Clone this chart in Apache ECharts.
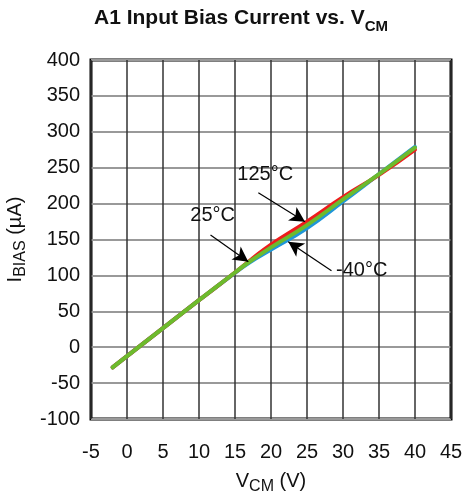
<!DOCTYPE html>
<html><head><meta charset="utf-8">
<script src="https://cdn.jsdelivr.net/npm/echarts@6/dist/echarts.min.js"></script>
<style>html,body{margin:0;padding:0;background:#fff}#c{width:464px;height:495px}</style>
</head><body><div id="c"></div>
<script>
// V_CM (V)
const vcm = [-2, 0, 5, 10, 15, 17, 20, 25, 30, 35, 40];
// I_BIAS (uA) per temperature
const ib125 = [-28, -12.5, 26.5, 65.5, 104, 120, 143, 175, 209, 240, 275];
const ib25  = [-28, -12.5, 26.5, 65.5, 104, 119, 139, 170, 206, 241, 278];
const ibm40 = [-28, -12.5, 26.5, 65.5, 103.5, 118, 136, 166, 203, 241, 279];

// annotations (data coordinates): label, text anchor, arrow start, arrow tip
const annLabels = ['125°C', '25°C', '-40°C'];
const annText = [[19.2, 240], [11.9, 183], [32.6, 107.5]];
const annFrom = [[18.24, 215.2], [11.6, 156.3], [28.4, 106.5]];
const annTo   = [[24.72, 174.8], [16.85, 119.1], [22.4, 147]];

const FONT = '"Liberation Sans", Arial, Helvetica, sans-serif';
const zip = (xs, ys) => xs.map((x, i) => [x, ys[i]]);

const chart = echarts.init(document.getElementById('c'), null, {renderer: 'canvas'});
chart.setOption({
  animation: false,
  backgroundColor: '#fff',
  title: {
    text: '{t|A1 Input Bias Current vs. V}{s|CM}',
    left: 236, top: 3, textAlign: 'center',
    textStyle: {
      rich: {
        t: {fontFamily: FONT, fontWeight: 'bold', fontSize: 21, color: '#111', verticalAlign: 'bottom'},
        s: {fontFamily: FONT, fontWeight: 'bold', fontSize: 15, color: '#111', verticalAlign: 'bottom', padding: [0, 0, -5, 0]}
      }
    }
  },
  grid: {left: 91, right: 13, top: 60, bottom: 76, show: true, borderColor: '#000', borderWidth: 3,
         backgroundColor: 'transparent', containLabel: false, outerBoundsMode: 'none'},
  xAxis: {
    type: 'value', min: -5, max: 45, interval: 5,
    axisLine: {show: false}, axisTick: {show: false},
    splitLine: {show: true, lineStyle: {color: '#333', width: 1.5}},
    axisLabel: {fontFamily: FONT, fontSize: 20, color: '#111', margin: 23},
    name: '{a|V}{b|CM}{a| (V)}', nameLocation: 'middle', nameGap: 52,
    nameTextStyle: {rich: {
      a: {fontFamily: FONT, fontSize: 20, color: '#111', verticalAlign: 'bottom'},
      b: {fontFamily: FONT, fontSize: 16, color: '#111', verticalAlign: 'bottom', padding: [0, 0, -4, 0]}
    }}
  },
  yAxis: {
    type: 'value', min: -100, max: 400, interval: 50,
    axisLine: {show: false}, axisTick: {show: false},
    splitLine: {show: true, lineStyle: {color: '#999', width: 2}},
    axisLabel: {fontFamily: FONT, fontSize: 20, color: '#111', margin: 11},
    name: '{a|I}{b|BIAS}{a| (µA)}', nameLocation: 'middle', nameGap: 56, nameRotate: 90,
    nameTextStyle: {rich: {
      a: {fontFamily: FONT, fontSize: 20, color: '#111', verticalAlign: 'bottom'},
      b: {fontFamily: FONT, fontSize: 16, color: '#111', verticalAlign: 'bottom', padding: [0, 0, -4, 0]}
    }}
  },
  series: [
    {name: '-40°C', type: 'line', data: zip(vcm, ibm40), showSymbol: false, smooth: 0.5,
     lineStyle: {color: '#1f96d8', width: 4, cap: 'round'}, z: 2},
    {name: '125°C', type: 'line', data: zip(vcm, ib125), showSymbol: false, smooth: 0.5,
     lineStyle: {color: '#ee1c1c', width: 4, cap: 'round'}, z: 3},
    {name: '25°C', type: 'line', data: zip(vcm, ib25), showSymbol: false, smooth: 0.5,
     lineStyle: {color: '#6cbb2d', width: 4, cap: 'round'}, z: 4,
     markLine: {
       silent: true, symbol: ['none', 'arrow'], symbolSize: [12, 15],
       lineStyle: {color: '#000', width: 1.2, type: 'solid'},
       label: {show: false},
       data: annFrom.map((f, i) => [{coord: f}, {coord: annTo[i]}])
     },
     markPoint: {
       silent: true, symbol: 'rect', symbolSize: 0,
       label: {show: true, position: 'inside', formatter: p => p.name,
               fontFamily: FONT, fontSize: 20, color: '#111'},
       data: annLabels.map((t, i) => ({name: t, coord: annText[i]}))
     }}
  ]
});
</script>
</body></html>
